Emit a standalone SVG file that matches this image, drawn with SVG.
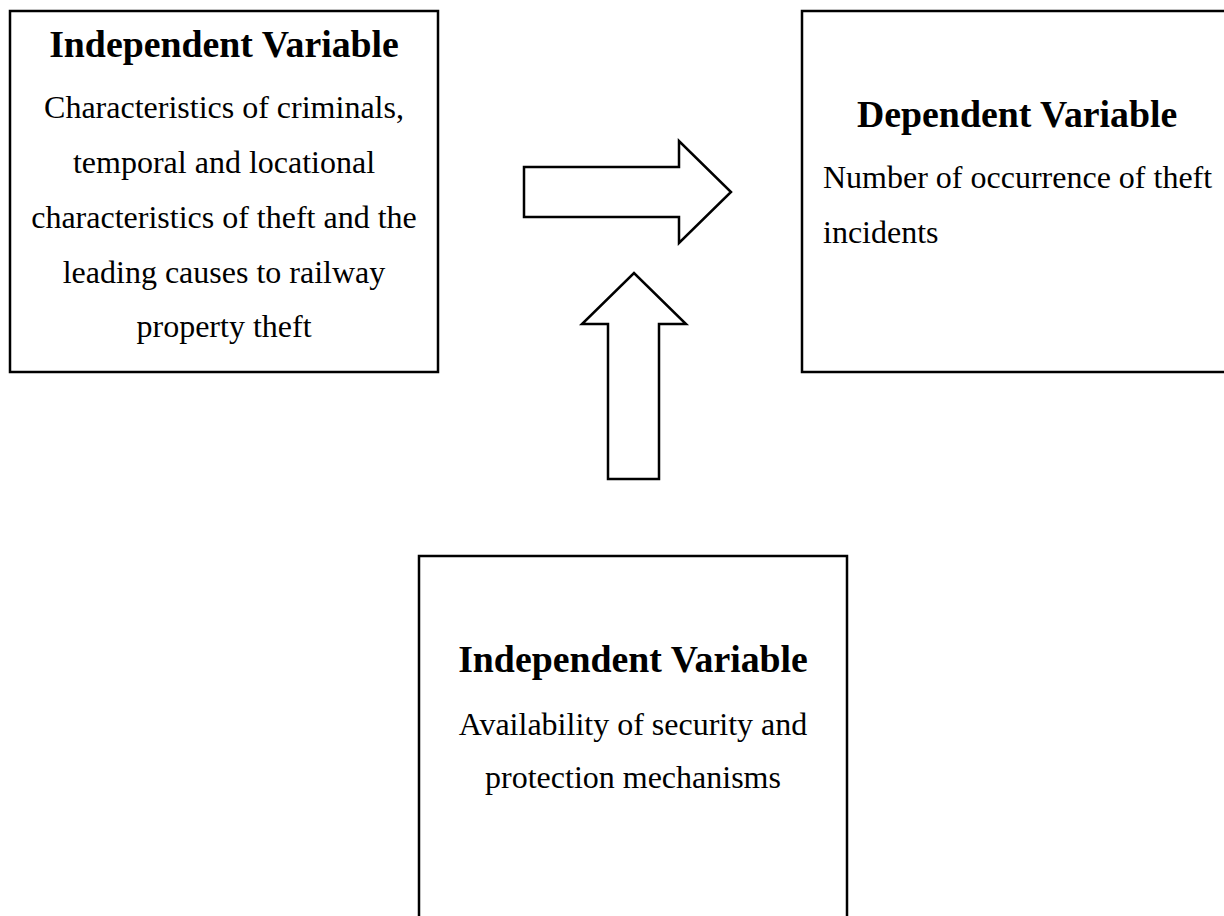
<svg xmlns="http://www.w3.org/2000/svg" width="1224" height="916" viewBox="0 0 1224 916">
<style>
.box{fill:#fff;stroke:#000;stroke-width:2.5}
.arrow{fill:#fff;stroke:#000;stroke-width:2.5;stroke-linejoin:miter}
.title{font-family:"Liberation Serif","Times New Roman",serif;font-weight:bold;font-size:37.8px;fill:#000}
.body{font-family:"Liberation Serif","Times New Roman",serif;font-size:32px;fill:#000}
.c{text-anchor:middle}
</style>
<rect width="1224" height="916" fill="#fff"/>
<g id="node-iv1">
<rect class="box" x="10" y="11" width="428" height="361"/>
<text class="title c" x="224" y="57">Independent Variable</text>
<text class="body c" x="224" y="118">Characteristics of criminals,</text>
<text class="body c" x="224" y="173">temporal and locational</text>
<text class="body c" x="224" y="228">characteristics of theft and the</text>
<text class="body c" x="224" y="283">leading causes to railway</text>
<text class="body c" x="224" y="337">property theft</text>
</g>
<g id="node-dv">
<rect class="box" x="802" y="11" width="440" height="361"/>
<text class="title" x="857" y="127">Dependent Variable</text>
<text class="body" x="823" y="188">Number of occurrence of theft</text>
<text class="body" x="823" y="243">incidents</text>
</g>
<g id="node-iv2">
<rect class="box" x="419" y="556" width="428" height="380"/>
<text class="title c" x="633" y="672">Independent Variable</text>
<text class="body c" x="633" y="735">Availability of security and</text>
<text class="body c" x="633" y="788">protection mechanisms</text>
</g>
<g id="connectors">
<polygon class="arrow" points="524,167 679,167 679,141 731,192 679,243 679,217 524,217"/>
<polygon class="arrow" points="608,479 608,324 582,324 634,273 686,324 659,324 659,479"/>
</g>
</svg>
